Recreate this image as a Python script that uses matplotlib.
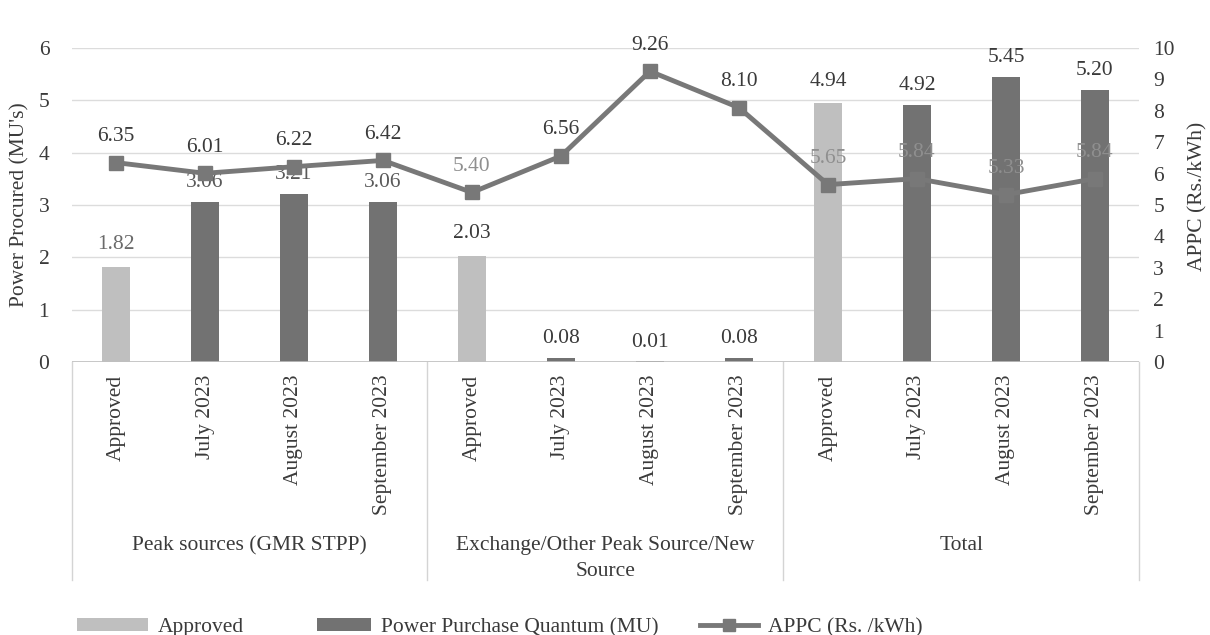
import numpy as np
import matplotlib
matplotlib.use("Agg")
import matplotlib.pyplot as plt
from matplotlib.patches import Patch
from matplotlib.lines import Line2D

plt.rcParams['font.family'] = ['Liberation Serif', 'DejaVu Serif']
plt.rcParams['font.size'] = 15.5

# data
categories = ['Approved', 'July 2023', 'August 2023', 'September 2023'] * 3
groups = ['Peak sources (GMR STPP)', 'Exchange/Other Peak Source/New\nSource', 'Total']
approved_pos = [0, 4, 8]
approved = [1.82, 2.03, 4.94]
purchase_pos = [1, 2, 3, 5, 6, 7, 9, 10, 11]
purchase = [3.06, 3.21, 3.06, 0.08, 0.01, 0.08, 4.92, 5.45, 5.20]
appc = [6.35, 6.01, 6.22, 6.42, 5.40, 6.56, 9.26, 8.10, 5.65, 5.84, 5.33, 5.84]

light = '#bfbfbf'
dark = '#727272'
line_col = '#787878'
grid_col = '#dcdcdc'
txt = '#3a3a3a'

fig = plt.figure(figsize=(12.1, 6.35), dpi=100)
ax = fig.add_axes([0.0591, 0.4299, 0.8826, 0.4945])
x = np.arange(len(categories))

ax.bar(approved_pos, approved, width=0.32, color=light, zorder=2)
ax.bar(purchase_pos, purchase, width=0.32, color=dark, zorder=2)
for p, v in zip(approved_pos, approved):
    ax.annotate(f'{v:.2f}', (p, v), xytext=(0, 9), textcoords='offset points',
                ha='center', va='bottom', color='#6a6a6a' if p == 0 else txt)
for p, v in zip(purchase_pos, purchase):
    ax.annotate(f'{v:.2f}', (p, v), xytext=(0, 7), textcoords='offset points',
                ha='center', va='bottom', color='#5a5a5a' if p < 4 else txt)

ax.set_xlim(-0.5, 11.5)
ax.set_ylim(0, 6)
ax.set_yticks(range(7))
ax.yaxis.grid(True, color=grid_col, lw=1)
ax.set_axisbelow(True)
for s in ax.spines.values():
    s.set_visible(False)
ax.axhline(0, color='#bfbfbf', lw=1.2, zorder=3)
ax.tick_params(axis='y', length=0, pad=16, labelcolor=txt)
ax.set_xticks(x, categories, rotation=90)
ax.tick_params(axis='x', length=0, pad=9, labelcolor=txt)

# category table below the axis
for b in [-0.5, 3.5, 7.5, 11.5]:
    ax.plot([b, b], [0, -0.694], transform=ax.get_xaxis_transform(),
            clip_on=False, color='#d4d4d4', lw=1)
for i, g in enumerate(groups):
    ax.text(i * 4 + 1.5, -0.555, g, transform=ax.get_xaxis_transform(),
            ha='center', va='top', linespacing=1.5, color=txt)

ax2 = ax.twinx()
ax2.plot(x, appc, color=line_col, lw=3.5, marker='s', ms=10, zorder=4)
for i, v in enumerate(appc):
    c = '#8f8f8f' if i >= 8 or i == 4 else txt
    ax2.annotate(f'{v:.2f}', (i, v), xytext=(0, 12), textcoords='offset points',
                 ha='center', va='bottom', color=c)
ax2.set_ylim(0, 10)
ax2.set_yticks(range(11))
ax2.tick_params(axis='y', length=0, pad=10, labelcolor=txt)
for s in ax2.spines.values():
    s.set_visible(False)

fig.text(20 / 1210, 0.677, "Power Procured (MU's)", rotation=90,
         ha='center', va='center', color=txt)
fig.text(1198 / 1210, 0.69, 'APPC (Rs./kWh)', rotation=90,
         ha='center', va='center', color=txt)

# legend entries placed one by one
entries = [
    (Patch(facecolor=light), 'Approved', 77, 3.3),
    (Patch(facecolor=dark), 'Power Purchase Quantum (MU)', 317, 2.5),
    (Line2D([], [], color=line_col, lw=3.5, marker='s', ms=9), 'APPC (Rs. /kWh)', 700, 2.7),
]
for h, lab, left, hl in entries:
    fig.legend([h], [lab], loc='center left', bbox_to_anchor=(left / 1210, 0.012),
               frameon=False, handlelength=hl, handleheight=0.55,
               handletextpad=0.45, borderpad=0, borderaxespad=0,
               labelcolor=txt)

plt.savefig('out.png', dpi=100)
